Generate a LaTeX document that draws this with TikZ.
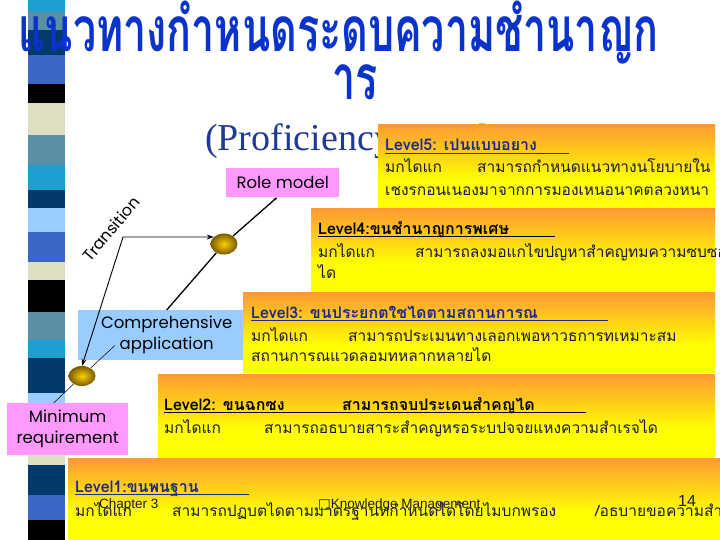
\documentclass[tikz,border=0pt]{standalone}
\usepackage{fontspec}
\usetikzlibrary{calc,arrows.meta,shapes.geometric}
\setmainfont{Liberation Serif}
\newfontfamily\thai[Script=Thai]{Loma}
\newfontfamily\gothic{Poppins}
\newfontfamily\lsans{Liberation Sans}
\newfontfamily\djv{DejaVu Sans}
\definecolor{sca}{HTML}{1E9FCF}
\definecolor{scb}{HTML}{5B8FA6}
\definecolor{scc}{HTML}{033A6B}
\definecolor{scd}{HTML}{3A66C8}
\definecolor{sbeige}{HTML}{DEDEC0}
\definecolor{slight}{HTML}{99CCFF}
\definecolor{titleblue}{HTML}{0A33CC}
\definecolor{profblue}{HTML}{1F3A93}
\definecolor{pinkbox}{HTML}{FF99FF}
\definecolor{bluebox}{HTML}{99CCFF}
\definecolor{org}{HTML}{FF9933}
\definecolor{yel}{HTML}{FFFF00}
\definecolor{navytxt}{HTML}{1A2A8A}
\definecolor{bodytxt}{HTML}{1A1A3A}
\definecolor{ballin}{HTML}{FFD200}
\definecolor{ballout}{HTML}{7A5A00}
\pgfdeclareverticalshading{lvlshade}{100bp}{color(0bp)=(yel); color(25bp)=(yel); color(42bp)=(yel); color(75bp)=(org); color(100bp)=(org)}
\tikzset{
  lvlbox/.style={shading=lvlshade, anchor=north west, inner sep=0pt, draw=none},
  head/.style={anchor=base west, inner sep=0pt, font=\thai\bfseries\fontsize{16}{16}\selectfont},
  body/.style={anchor=base west, inner sep=0pt, text=bodytxt, font=\thai\fontsize{15.5}{15.5}\selectfont},
  ul/.style={line width=1.2pt},
  labbox/.style={inner sep=0pt, align=center, font=\gothic\fontsize{16.5}{21}\selectfont},
  ballnode/.style={ellipse, minimum width=27pt, minimum height=21pt, inner sep=0pt, inner color=ballin, outer color=ballout},
  conn/.style={line width=1.3pt},
  thinconn/.style={line width=0.5pt},
  foot/.style={anchor=base west, inner sep=0pt, text=bodytxt, font=\lsans\fontsize{13.5}{13.5}\selectfont},
  titlefont/.style={inner sep=0pt, text=titleblue, font=\thai\bfseries\fontsize{46}{46}\selectfont}
}
\begin{document}
\begin{tikzpicture}[x=1pt,y=-1pt]
\useasboundingbox (0,0) rectangle (720,540);
\clip (0,0) rectangle (720,540);
\fill[white] (0,0) rectangle (720,540);
% stripes
\foreach \ya/\yb/\cc in {0/12/sca,12/30/scb,30/55/scc,55/84/scd,84/103/black,103/135/sbeige,135/165/scb,165/190/sca,190/208/scc,208/232/slight,232/262/scd,262/280/sbeige,280/312/black,312/340/scb,340/358/sca,358/393/scc,393/410/slight,410/455/scd,455/465/sbeige,465/495/scc,495/520/scd,520/540/black}
  \fill[\cc] (28,\ya) rectangle (65,\yb);
% title
\node[titlefont, anchor=base west] (t1) at (18,52) {\scalebox{0.897}[1.35]{แนวทางกำหนดระดบความชำนาญก}};
\node[titlefont, anchor=base] (t2) at (355,100) {\scalebox{0.897}[1.35]{าร}};
\node[anchor=base west, inner sep=0pt, text=profblue, font=\fontsize{38}{38}\selectfont] (prof) at (205,151) {(Proficiency Level)};
% side label boxes
\node[labbox, fill=pinkbox, anchor=north west, minimum width=113pt, minimum height=29pt] (role) at (226,168) {Role model};
\node[labbox, fill=bluebox, anchor=north west, minimum width=177pt, minimum height=50pt] (comp) at (78,310) {Comprehensive\\application};
% level boxes
\node[lvlbox, minimum width=337pt, minimum height=84pt] (L5) at (378,124) {};
\node[lvlbox, minimum width=404pt, minimum height=84pt] (L4) at (311,208) {};
\node[lvlbox, minimum width=472pt, minimum height=80pt] (L3) at (243,292) {};
\node[lvlbox, minimum width=557pt, minimum height=83pt] (L2) at (158,374) {};
\node[lvlbox, minimum width=652pt, minimum height=82pt] (L1) at (68,458) {};
\node[labbox, fill=pinkbox, anchor=north west, minimum width=121pt, minimum height=52pt] (minreq) at (7,403) {Minimum\\requirement};
% balls
\node[ballnode] (ballA) at (224,244) {};
\node[ballnode, minimum height=20pt] (ballB) at (82,376) {};
% connectors
\coordinate (corner) at (123,237);
\draw[conn, -{Stealth[length=3pt,width=3pt]}] (ballA) -- ($(role.south west)!0.45!(role.south east)$);
\draw[conn] (ballA) -- (comp.north);
\draw[line width=0.9pt, {Stealth[length=7pt,width=5pt]}-{Stealth[length=7pt,width=5pt]}] (ballB.north) -- (corner) -- ($(corner -| ballA.west)+(3.5,0)$);
\draw[thinconn] (ballB) -- ($(comp.south west)+(37,-15)$);
\draw[thinconn] (ballB) -- ($(minreq.north)+(-14,0)$);
\node[inner sep=0pt, rotate=50, font=\gothic\fontsize{16}{16}\selectfont] (trans) at (111,229) {Transition};
% level 5 texts
\node[head, text=navytxt] (h5) at (385,151) {Level5: เปนแบบอยาง};
\draw[ul, navytxt] ($(h5.base west)+(0,2.5)$) -- ++(184,0);
\node[body] (b5a) at (385,173) {มกไดแก};
\node[body] (b5b) at (477,173) {สามารถกำหนดแนวทางนโยบายใน};
\node[body] (b5c) at (385,196) {เชงรกอนเนองมาจากการมองเหนอนาคตลวงหนา};
% level 4
\node[head, text=black] (h4) at (318,234) {Level4:ขนชำนาญการพเศษ};
\draw[ul, black] ($(h4.base west)+(0,2.5)$) -- ++(237,0);
\node[body] (b4a) at (318,257) {มกไดแก};
\node[body] (b4b) at (415,257) {สามารถลงมอแกไขปญหาสำคญทมความซบซอน};
\node[body] (b4c) at (318,278) {ได};
% level 3
\node[head, text=navytxt] (h3) at (251,318) {Level3: ขนประยกตใชไดตามสถานการณ};
\draw[ul, navytxt] ($(h3.base west)+(0,2.5)$) -- ++(357,0);
\node[body] (b3a) at (251,341) {มกไดแก};
\node[body] (b3b) at (348,341) {สามารถประเมนทางเลอกเพอหาวธการทเหมาะสม};
\node[body] (b3c) at (251,361) {สถานการณแวดลอมทหลากหลายได};
% level 2
\node[head, text=black] (h2) at (164,410) {Level2: ขนฉกซง};
\node[head, text=black] (h2b) at (342,410) {สามารถจบประเดนสำคญได};
\draw[ul, black] ($(h2.base west)+(0,2.5)$) -- ++(422,0);
\node[body] (b2a) at (164,433) {มกไดแก};
\node[body] (b2b) at (264,433) {สามารถอธบายสาระสำคญหรอระบปจจยแหงความสำเรจได};
% level 1
\node[head, text=navytxt] (h1) at (75,492) {Level1:ขนพนฐาน};
\draw[ul, navytxt] ($(h1.base west)+(0,2.5)$) -- ++(174,0);
\node[body] (b1a) at (75,516) {มกไดแก};
\node[body] (b1b) at (172,516) {สามารถปฏบตไดตามมาตรฐานทกำหนดไดโดยไมบกพรอง};
\node[body] (b1c) at (595,516) {/อธบายขอความสำคญ};
% footer
\node[foot] (f1) at (99,508) {Chapter 3};
\node[foot] (f2) at (318,508) {{\djv □}Knowledge Management};
\node[foot, font=\lsans\fontsize{16}{16}\selectfont] (f3) at (678,506) {14};
\end{tikzpicture}
\end{document}
